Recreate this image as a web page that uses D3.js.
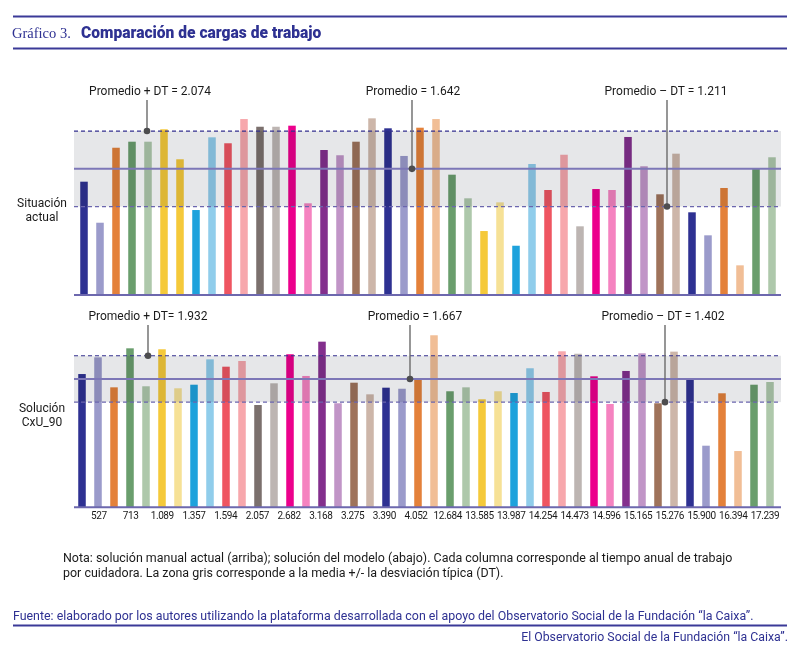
<!DOCTYPE html>
<html>
<head>
  <meta charset="utf-8">
  <style>
    body { margin: 0; background: #fff; }
    text { font-family: Roboto, "Liberation Sans", sans-serif; }
    .band { fill: #e6e7e9; mix-blend-mode: multiply; }
  </style>
  <title>Comparación de cargas de trabajo</title>
  <script src="https://cdn.jsdelivr.net/npm/d3@7/dist/d3.min.js"></script>
</head>
<body>
<script>
  // Cuidadoras (etiquetas del eje, una por cada par de columnas)
  const cuidadoras = ["527", "713", "1.089", "1.357", "1.594", "2.057", "2.682", "3.168", "3.275", "3.390", "4.052",
                      "12.684", "13.585", "13.987", "14.254", "14.473", "14.596", "15.165", "15.276", "15.900", "16.394", "17.239"];

  // Horas anuales por columna: situación actual (arriba)
  const actual = [1495, 1026, 1883, 1952, 1952, 2094, 1751, 1171, 2002, 1934, 2211, 2123, 2123, 2135, 1248,
                  1857, 1797, 1952, 2219, 2105, 1789, 2112, 2211, 1575, 1305, 931, 1259, 763, 1697, 1400,
                  1803, 985, 1411, 1400, 2006, 1671, 1351, 1815, 1145, 882, 1423, 539, 1648, 1774];

  // Horas anuales por columna: solución CxU_90 (abajo)
  const cxu90 = [1723, 1914, 1571, 2017, 1583, 2006, 1560, 1601, 1891, 1807, 1872, 1369, 1617, 1949, 1701,
                 2093, 1389, 1624, 1491, 1567, 1555, 1658, 2166, 1526, 1571, 1434, 1526, 1506, 1789, 1518,
                 1983, 1955, 1697, 1381, 1758, 1960, 1389, 1979, 1655, 904, 1503, 843, 1601, 1632];

  // Promedio + DT, promedio, promedio - DT
  const lineasActual = [2074, 1642, 1211];
  const lineasCxU = [1932, 1667, 1402];
  const textosActual = ["Promedio + DT = ", "Promedio = ", "Promedio – DT = "];
  const textosCxU = ["Promedio + DT= ", "Promedio = ", "Promedio – DT = "];

  const pal = {
    navy: "#2e3192", lnavy: "#9b9bcb", orange: "#e4813a", lorange: "#f1be96",
    green: "#6a9e6d", lgreen: "#aec8ab", yellow: "#f5c93a", lyellow: "#f6e196",
    blue: "#1ea2dc", lblue: "#90cdeb", red: "#ef5561", lred: "#f7a7ac",
    dgrey: "#7b706d", lgrey: "#bdb5b2", magenta: "#ec008c", pink: "#f583c0",
    purple: "#832f8d", lpurple: "#c195c7", brown: "#9f735b", lbrown: "#cdb6a9"
  };
  const coloresActual = ["navy","lnavy","orange","green","lgreen","yellow","yellow","blue","lblue","red","lred",
    "dgrey","lgrey","magenta","pink","purple","lpurple","brown","lbrown","navy","lnavy","orange","lorange",
    "green","lgreen","yellow","lyellow","blue","lblue","red","lred","lgrey","magenta","pink","purple","lpurple",
    "brown","lbrown","navy","lnavy","orange","lorange","green","lgreen"];
  const coloresCxU = coloresActual.map((c, i) => i === 6 ? "lyellow" : c);

  const width = 800, height = 650;
  const azul = "#2e3192";
  const fmt = d3.formatLocale({decimal: ",", thousands: ".", grouping: [3], currency: ["", ""]}).format(",d");

  const svg = d3.select("body").append("svg")
      .attr("width", width)
      .attr("height", height);

  // Cabecera
  svg.append("line").attr("x1", 13).attr("x2", 787).attr("y1", 16.5).attr("y2", 16.5)
      .attr("stroke", "#3b3a98").attr("stroke-width", 2);
  svg.append("text").attr("x", 12).attr("y", 38)
      .style("font-family", "'Liberation Serif', serif").style("font-size", "14.5px")
      .attr("fill", azul).text("Gráfico 3.");
  svg.append("text").attr("x", 81).attr("y", 37.5)
      .style("font-size", "15.6px").style("font-weight", "900")
      .attr("fill", azul).text("Comparación de cargas de trabajo");
  svg.append("line").attr("x1", 13).attr("x2", 787).attr("y1", 48.5).attr("y2", 48.5)
      .attr("stroke", "#3b3a98").attr("stroke-width", 2);

  const paneles = [
    {valores: actual, colores: coloresActual, lineas: lineasActual, textos: textosActual,
     base: 295, xr: [76, 780], textoY: 95, callX: [147, 412, 667], textX: [150, 413, 666],
     nombre: ["Situación", "actual"], nombreY: 207, ejes: false},
    {valores: cxu90, colores: coloresCxU, lineas: lineasCxU, textos: textosCxU,
     base: 507.3, xr: [74, 778], textoY: 320, callX: [148, 410, 665], textX: [148, 415, 663],
     nombre: ["Solución", "CxU_90"], nombreY: 412, ejes: true}
  ];

  paneles.forEach(function(p) {
    const g = svg.append("g");
    const idx = d3.range(p.valores.length);

    const x = d3.scaleBand().domain(idx).range(p.xr).paddingInner(0.53).paddingOuter(0.265);
    const y = d3.scaleLinear().domain([200, 2400]).range([p.base, p.base - 2200 * 0.0875]);

    // Columnas
    g.selectAll(".bar")
      .data(p.valores)
      .enter().append("rect")
        .attr("class", "bar")
        .attr("x", (d, i) => x(i))
        .attr("width", x.bandwidth())
        .attr("y", d => y(d))
        .attr("height", d => y(200) - y(d))
        .attr("fill", (d, i) => pal[p.colores[i]]);

    // Zona gris (media +/- DT)
    g.append("rect").attr("class", "band")
      .attr("x", 74).attr("width", 707)
      .attr("y", y(p.lineas[0])).attr("height", y(p.lineas[2]) - y(p.lineas[0]));

    // Líneas de referencia
    g.append("line").attr("x1", 74).attr("x2", 781).attr("y1", y(p.lineas[0])).attr("y2", y(p.lineas[0]))
      .attr("stroke", "#34318f").attr("stroke-width", 1.2).attr("stroke-dasharray", "4,3");
    g.append("line").attr("x1", 74).attr("x2", 781).attr("y1", y(p.lineas[2])).attr("y2", y(p.lineas[2]))
      .attr("stroke", "#6b66ae").attr("stroke-width", 1.2).attr("stroke-dasharray", "4,3");
    g.append("line").attr("x1", 74).attr("x2", 781).attr("y1", y(p.lineas[1])).attr("y2", y(p.lineas[1]))
      .attr("stroke", "#7d77b7").attr("stroke-width", 2);

    // Eje base
    g.append("line").attr("x1", 74).attr("x2", 781).attr("y1", y(200)).attr("y2", y(200))
      .attr("stroke", "#6d68ae").attr("stroke-width", 2);

    if (p.ejes) {
      const xl = d3.scalePoint().domain(cuidadoras).range([98.3, 764.5]);
      const ax = g.append("g")
        .attr("transform", "translate(0," + y(200) + ")")
        .call(d3.axisBottom(xl).tickSize(0).tickPadding(5));
      ax.select(".domain").remove();
      ax.selectAll("text")
        .style("font-family", "Roboto, sans-serif")
        .style("font-size", "10px")
        .style("letter-spacing", "-0.4px")
        .attr("fill", "#1a1a1a");
    }

    // Anotaciones
    p.lineas.forEach(function(v, k) {
      g.append("line").attr("x1", p.callX[k]).attr("x2", p.callX[k])
        .attr("y1", p.textoY + 5).attr("y2", y(v))
        .attr("stroke", "#6a6a6a").attr("stroke-width", 1.4);
      g.append("circle").attr("cx", p.callX[k]).attr("cy", y(v)).attr("r", 3.3).attr("fill", "#4d4d4f");
      g.append("text").attr("x", p.textX[k]).attr("y", p.textoY)
        .style("text-anchor", "middle").style("font-size", "12px").attr("fill", "#1a1a1a")
        .text(p.textos[k] + fmt(v));
    });

    // Nombre del panel
    g.selectAll(".nombre").data(p.nombre).enter().append("text")
      .attr("x", 42).attr("y", (d, i) => p.nombreY + i * 13.5)
      .style("text-anchor", "middle").style("font-size", "12px").attr("fill", "#1a1a1a")
      .text(d => d);
  });

  // Nota y fuente
  const nota = ["Nota: solución manual actual (arriba); solución del modelo (abajo). Cada columna corresponde al tiempo anual de trabajo",
                "por cuidadora. La zona gris corresponde a la media +/- la desviación típica (DT)."];
  svg.selectAll(".nota").data(nota).enter().append("text")
    .attr("x", 63).attr("y", (d, i) => 562 + i * 15)
    .style("font-size", "12.45px").attr("fill", "#1a1a1a")
    .text(d => d);

  svg.append("text").attr("x", 13).attr("y", 619.5)
    .style("font-size", "12.4px").attr("fill", azul)
    .text("Fuente: elaborado por los autores utilizando la plataforma desarrollada con el apoyo del Observatorio Social de la Fundación “la Caixa”.");
  svg.append("line").attr("x1", 13).attr("x2", 787).attr("y1", 625.5).attr("y2", 625.5)
    .attr("stroke", "#3b3a98").attr("stroke-width", 2);
  svg.append("text").attr("x", 788).attr("y", 641)
    .style("text-anchor", "end").style("font-size", "12.3px").attr("fill", azul)
    .text("El Observatorio Social de la Fundación “la Caixa”.");
</script>
</body>
</html>
